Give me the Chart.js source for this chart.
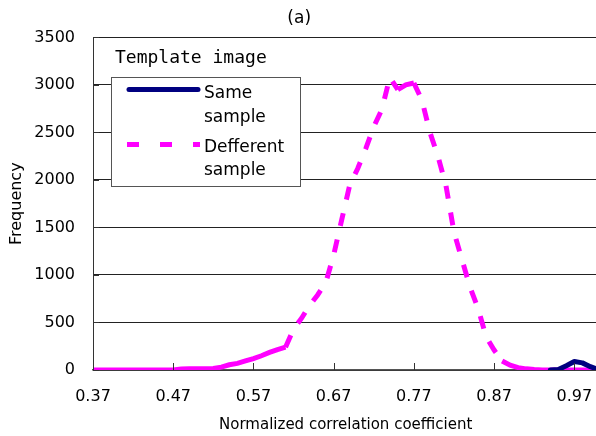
<!DOCTYPE html>
<html>
<head>
<meta charset="utf-8">
<script src="https://cdn.jsdelivr.net/npm/chart.js@4.4.1/dist/chart.umd.min.js"></script>
<style>
  html, body { margin: 0; padding: 0; background: #fff; overflow: hidden; }
  #wrap { width: 600px; height: 436px; }
</style>
</head>
<body>
<div id="wrap"><canvas id="chart" width="600" height="436"></canvas></div>
<script>
// category axis: normalized correlation coefficient, step 0.01
const xLabels = [
  '0.37','0.38','0.39','0.40','0.41','0.42','0.43','0.44','0.45','0.46',
  '0.47','0.48','0.49','0.50','0.51','0.52','0.53','0.54','0.55','0.56',
  '0.57','0.58','0.59','0.60','0.61','0.62','0.63','0.64','0.65','0.66',
  '0.67','0.68','0.69','0.70','0.71','0.72','0.73','0.74','0.75','0.76',
  '0.77','0.78','0.79','0.80','0.81','0.82','0.83','0.84','0.85','0.86',
  '0.87','0.88','0.89','0.90','0.91','0.92','0.93','0.94','0.95','0.96',
  '0.97','0.98','0.99','1.00'
];

// same sample (only the tail near 1.0 is drawn)
const sameSample = [
  null,null,null,null,null,null,null,null,null,null,
  null,null,null,null,null,null,null,null,null,null,
  null,null,null,null,null,null,null,null,null,null,
  null,null,null,null,null,null,null,null,null,null,
  null,null,null,null,null,null,null,null,null,null,
  null,null,null,null,null,null,null,0,5,45,
  90,75,35,5
];

// different sample
const diffSample = [
  0,0,0,0,0,0,0,0,0,0,
  0,10,12,12,12,15,30,55,70,95,
  120,150,185,215,240,430,545,680,790,915,
  1210,1580,1945,2120,2330,2560,2740,3080,2950,3000,
  3020,2840,2500,2250,1940,1450,1160,870,650,350,
  210,95,50,25,12,5,0,0,0,0,
  0,0,0,0
];

const yTicks = [0, 500, 1000, 1500, 2000, 2500, 3000, 3500];

const FONT = 'DejaVu Sans';
const DASH = [13, 14];

// 内側の目盛り
const innerTicks = {
    id: 'innerTicks',
    afterDatasetsDraw(chart) {
        const { ctx, scales: { x, y }, chartArea } = chart;
        ctx.save();
        ctx.strokeStyle = '#333';
        ctx.lineWidth = 1;
        ctx.beginPath();
        x.ticks.forEach((t, i) => {
            if (i % 10 !== 0) return;
            const px = Math.round(x.getPixelForTick(i)) + 0.5;
            ctx.moveTo(px, chartArea.bottom);
            ctx.lineTo(px, chartArea.bottom - 7);
        });
        y.ticks.forEach((t, i) => {
            const py = Math.round(y.getPixelForTick(i)) + 0.5;
            ctx.moveTo(chartArea.left, py);
            ctx.lineTo(chartArea.left + 6, py);
        });
        ctx.stroke();
        ctx.restore();
    }
};

// 凡例（箱の中に2行ラベル）
const boxLegend = {
    id: 'boxLegend',
    afterDraw(chart) {
        const { ctx } = chart;
        ctx.save();
        ctx.fillStyle = '#000';
        ctx.font = '18px "DejaVu Sans Mono"';
        ctx.textBaseline = 'middle';
        ctx.fillText('Template image', 115, 58);

        ctx.fillStyle = '#fff';
        ctx.fillRect(111, 77, 189, 109);
        ctx.strokeStyle = '#555';
        ctx.lineWidth = 1;
        ctx.strokeRect(111.5, 77.5, 189, 109);

        const ds = chart.data.datasets;
        // same sample
        ctx.strokeStyle = ds[0].borderColor;
        ctx.lineWidth = 5;
        ctx.lineCap = 'round';
        ctx.beginPath();
        ctx.moveTo(129, 89.5);
        ctx.lineTo(198, 89.5);
        ctx.stroke();
        // different sample
        ctx.strokeStyle = ds[1].borderColor;
        ctx.lineCap = 'butt';
        ctx.setLineDash([12, 21]);
        ctx.beginPath();
        ctx.moveTo(127, 144.5);
        ctx.lineTo(200, 144.5);
        ctx.stroke();
        ctx.setLineDash([]);

        ctx.fillStyle = '#000';
        ctx.font = '17px "' + FONT + '"';
        ctx.fillText('Same', 204, 94);
        ctx.fillText('sample', 204, 118);
        ctx.fillText('Defferent', 204, 148);
        ctx.fillText('sample', 204, 171);
        ctx.restore();
    }
};

new Chart(document.getElementById('chart'), {
    type: 'line',
    data: {
        labels: xLabels,
        datasets: [
            {
                label: 'Same sample',
                data: sameSample,
                borderColor: '#000080',
                borderWidth: 5,
                borderCapStyle: 'round',
                borderJoinStyle: 'round',
                pointRadius: 0,
                tension: 0
            },
            {
                label: 'Defferent sample',
                data: diffSample,
                borderColor: '#FF00FF',
                borderWidth: 5,
                borderDash: DASH,
                borderCapStyle: 'butt',
                pointRadius: 0,
                tension: 0,
                // nearly flat short pieces look solid in the original
                segment: {
                    borderDash: c => (Math.abs(c.p1.y - c.p0.y) < 6 ? [] : DASH)
                }
            }
        ]
    },
    options: {
        responsive: false,
        animation: false,
        layout: { padding: { left: 0, right: 1.6, top: 0, bottom: 0 } },
        plugins: {
            legend: { display: false },
            tooltip: { enabled: false },
            title: {
                display: true,
                text: '(a)',
                color: '#000',
                font: { family: FONT, size: 17, weight: 'normal' },
                padding: { top: 8, bottom: 9 }
            }
        },
        scales: {
            x: {
                grid: { display: false, drawTicks: false },
                border: { display: true, color: '#555', width: 1.5 },
                ticks: {
                    autoSkip: false,
                    maxRotation: 0,
                    padding: 17,
                    color: '#000',
                    font: { family: FONT, size: 16 },
                    callback: (v, i) => (i % 10 === 0 ? xLabels[i] : '')
                },
                title: {
                    display: true,
                    text: 'Normalized correlation coefficient',
                    color: '#000',
                    font: { family: FONT, size: 15 },
                    padding: { top: 8, bottom: 2 }
                },
                afterFit: s => { s.height = 66; s.paddingLeft = 0; s.paddingRight = 0; }
            },
            y: {
                min: yTicks[0],
                max: yTicks[yTicks.length - 1],
                afterBuildTicks: s => { s.ticks = yTicks.map(v => ({ value: v })); },
                grid: { color: '#222', lineWidth: 1, drawTicks: false },
                border: { color: '#333', width: 1 },
                ticks: {
                    padding: 18,
                    color: '#000',
                    font: { family: FONT, size: 16 },
                    callback: v => String(v)
                },
                title: {
                    display: true,
                    text: 'Frequency',
                    color: '#000',
                    font: { family: FONT, size: 16 },
                    padding: { top: 7, bottom: 0 }
                },
                afterFit: s => { s.width = 93; }
            }
        }
    },
    plugins: [innerTicks, boxLegend]
});
</script>
</body>
</html>
